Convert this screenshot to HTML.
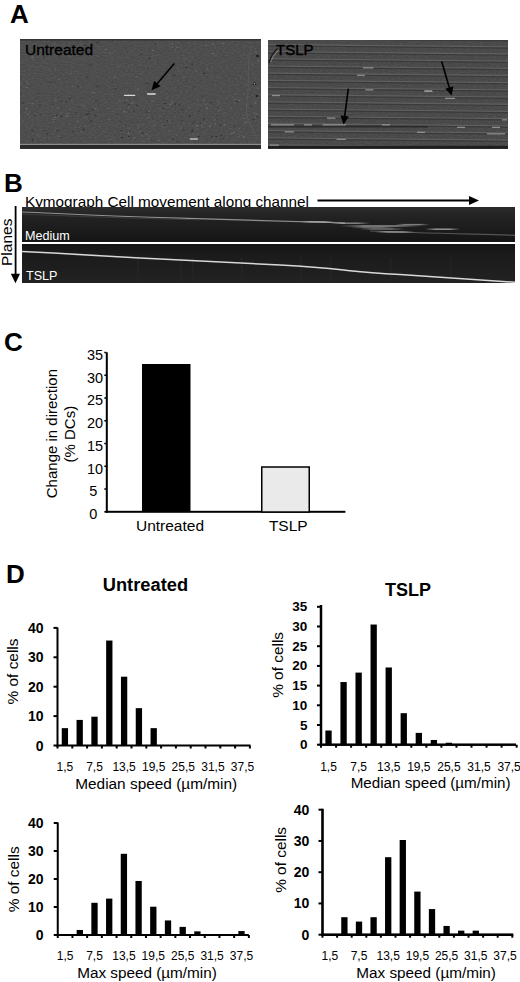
<!DOCTYPE html><html><head><meta charset="utf-8"><style>html,body{margin:0;padding:0;background:#fff;overflow:hidden}svg{display:block}text{font-family:"Liberation Sans",sans-serif;fill:#000}</style></head><body>
<svg width="520" height="982" viewBox="0 0 520 982">
<rect width="520" height="982" fill="#fff"/>
<defs><filter id="nz" x="0" y="0" width="1" height="1"><feTurbulence type="fractalNoise" baseFrequency="0.35 0.9" numOctaves="2" seed="3"/><feColorMatrix type="matrix" values="0 0 0 0 0.5  0 0 0 0 0.5  0 0 0 0 0.5  0 0 0 1.2 -0.45"/></filter></defs>
<text x="10" y="23.4" font-weight="bold" font-size="26">A</text>
<rect x="20" y="39" width="241" height="110" fill="#4a4a4a"/>
<rect x="20" y="39" width="241" height="110" filter="url(#nz)" opacity="0.22"/>
<rect x="20" y="39" width="241" height="1.5" fill="#333"/>
<rect x="20" y="143.8" width="241" height="1.2" fill="#8c8c8c"/>
<rect x="20" y="145" width="241" height="3.8" fill="#2a2a2a"/>
<rect x="123.8" y="94.64999999999999" width="11.6" height="1.3" rx="0.65" fill="#d8d8d8"/>
<rect x="147" y="93.35" width="8.8" height="1.3" rx="0.65" fill="#e0e0e0"/>
<rect x="189.6" y="138.35" width="8.4" height="1.3" rx="0.65" fill="#bbb"/>
<rect x="98.4" y="126.0" width="2.0" height="1" fill="#6a6a6a"/><rect x="44.2" y="137.1" width="1.0" height="1" fill="#707070"/><rect x="124.3" y="101.9" width="1.1" height="1" fill="#333"/><rect x="155.4" y="77.3" width="2.1" height="1" fill="#626262"/><rect x="158.2" y="140.0" width="1.7" height="1" fill="#6a6a6a"/><rect x="53.4" y="121.2" width="1.4" height="1" fill="#626262"/><rect x="214.6" y="123.0" width="1.4" height="1" fill="#707070"/><rect x="151.3" y="100.6" width="1.6" height="1" fill="#707070"/><rect x="147.5" y="68.1" width="1.4" height="1" fill="#333"/><rect x="80.6" y="131.5" width="1.7" height="1" fill="#6a6a6a"/><rect x="145.9" y="82.8" width="1.7" height="1" fill="#2e2e2e"/><rect x="39.3" y="105.1" width="1.2" height="1" fill="#2e2e2e"/><rect x="137.4" y="126.7" width="1.7" height="1" fill="#626262"/><rect x="228.6" y="127.9" width="1.6" height="1" fill="#626262"/><rect x="210.1" y="102.0" width="1.6" height="1" fill="#2e2e2e"/><rect x="178.7" y="128.2" width="2.2" height="1" fill="#626262"/><rect x="216.0" y="114.6" width="1.0" height="1" fill="#2e2e2e"/><rect x="131.0" y="103.0" width="1.3" height="1" fill="#6a6a6a"/><rect x="89.8" y="64.3" width="1.1" height="1" fill="#333"/><rect x="128.0" y="136.0" width="2.0" height="1" fill="#333"/><rect x="87.7" y="113.4" width="2.1" height="1" fill="#333"/><rect x="57.6" y="108.0" width="1.0" height="1" fill="#707070"/><rect x="218.1" y="110.1" width="1.5" height="1" fill="#707070"/><rect x="109.1" y="139.0" width="2.1" height="1" fill="#626262"/><rect x="176.6" y="67.6" width="1.5" height="1" fill="#626262"/><rect x="116.2" y="125.3" width="1.2" height="1" fill="#6a6a6a"/><rect x="254.4" y="102.7" width="1.1" height="1" fill="#626262"/><rect x="22.1" y="102.4" width="1.7" height="1" fill="#2e2e2e"/><rect x="38.6" y="114.2" width="2.1" height="1" fill="#2e2e2e"/><rect x="164.1" y="103.0" width="2.2" height="1" fill="#333"/><rect x="132.0" y="101.7" width="1.9" height="1" fill="#6a6a6a"/><rect x="196.7" y="127.8" width="1.0" height="1" fill="#626262"/><rect x="246.4" y="104.3" width="2.1" height="1" fill="#626262"/><rect x="200.9" y="125.6" width="1.8" height="1" fill="#6a6a6a"/><rect x="83.6" y="105.2" width="1.6" height="1" fill="#707070"/><rect x="205.9" y="107.6" width="2.0" height="1" fill="#707070"/><rect x="215.1" y="54.7" width="1.6" height="1" fill="#626262"/><rect x="194.5" y="86.2" width="1.3" height="1" fill="#333"/><rect x="185.4" y="67.0" width="2.1" height="1" fill="#2e2e2e"/><rect x="108.1" y="107.8" width="1.4" height="1" fill="#707070"/><rect x="135.9" y="76.2" width="1.6" height="1" fill="#6a6a6a"/><rect x="176.1" y="46.7" width="2.1" height="1" fill="#6a6a6a"/><rect x="206.6" y="68.8" width="1.5" height="1" fill="#707070"/><rect x="172.1" y="138.7" width="1.6" height="1" fill="#333"/><rect x="197.4" y="104.8" width="1.0" height="1" fill="#707070"/><rect x="161.4" y="126.2" width="2.0" height="1" fill="#626262"/><rect x="253.4" y="113.1" width="1.7" height="1" fill="#626262"/><rect x="27.0" y="82.7" width="1.6" height="1" fill="#6a6a6a"/><rect x="242.3" y="135.5" width="1.0" height="1" fill="#707070"/><rect x="72.2" y="130.8" width="1.3" height="1" fill="#2e2e2e"/><rect x="120.9" y="137.1" width="2.1" height="1" fill="#2e2e2e"/><rect x="178.3" y="70.9" width="1.2" height="1" fill="#626262"/><rect x="57.8" y="135.5" width="1.7" height="1" fill="#707070"/><rect x="205.1" y="104.1" width="1.9" height="1" fill="#626262"/><rect x="153.3" y="120.3" width="1.6" height="1" fill="#626262"/><rect x="205.3" y="45.2" width="1.3" height="1" fill="#707070"/><rect x="204.3" y="122.2" width="1.5" height="1" fill="#6a6a6a"/><rect x="166.6" y="120.0" width="1.5" height="1" fill="#2e2e2e"/><rect x="147.9" y="138.5" width="2.1" height="1" fill="#626262"/><rect x="244.4" y="122.1" width="2.0" height="1" fill="#707070"/><rect x="54.4" y="117.0" width="1.8" height="1" fill="#6a6a6a"/><rect x="123.1" y="111.0" width="2.1" height="1" fill="#6a6a6a"/><rect x="58.4" y="79.0" width="1.3" height="1" fill="#707070"/><rect x="54.4" y="130.1" width="1.5" height="1" fill="#6a6a6a"/><rect x="137.0" y="88.6" width="1.8" height="1" fill="#707070"/><rect x="256.6" y="116.1" width="1.4" height="1" fill="#2e2e2e"/><rect x="192.4" y="121.8" width="1.8" height="1" fill="#333"/><rect x="112.7" y="110.7" width="1.1" height="1" fill="#6a6a6a"/><rect x="238.8" y="135.7" width="1.3" height="1" fill="#6a6a6a"/><rect x="31.3" y="57.1" width="2.0" height="1" fill="#707070"/><rect x="222.5" y="138.7" width="1.2" height="1" fill="#333"/><rect x="238.9" y="128.1" width="1.3" height="1" fill="#6a6a6a"/><rect x="210.7" y="136.5" width="2.1" height="1" fill="#2e2e2e"/><rect x="171.7" y="46.7" width="1.1" height="1" fill="#707070"/><rect x="225.6" y="112.6" width="1.5" height="1" fill="#626262"/><rect x="238.0" y="99.9" width="2.1" height="1" fill="#707070"/><rect x="250.7" y="105.8" width="1.8" height="1" fill="#2e2e2e"/><rect x="147.3" y="117.2" width="1.3" height="1" fill="#707070"/><rect x="211.7" y="44.1" width="1.9" height="1" fill="#6a6a6a"/><rect x="152.0" y="118.4" width="1.1" height="1" fill="#333"/><rect x="215.3" y="119.3" width="2.2" height="1" fill="#333"/><rect x="94.6" y="107.9" width="2.0" height="1" fill="#707070"/><rect x="188.8" y="115.4" width="2.2" height="1" fill="#2e2e2e"/><rect x="219.5" y="124.9" width="1.5" height="1" fill="#2e2e2e"/><rect x="35.1" y="114.4" width="1.8" height="1" fill="#626262"/><rect x="88.5" y="110.6" width="1.2" height="1" fill="#333"/><rect x="85.5" y="113.7" width="2.2" height="1" fill="#2e2e2e"/><rect x="151.1" y="139.5" width="1.3" height="1" fill="#2e2e2e"/><rect x="65.2" y="101.6" width="1.6" height="1" fill="#2e2e2e"/><rect x="69.4" y="98.2" width="2.0" height="1" fill="#2e2e2e"/><rect x="56.0" y="114.9" width="1.4" height="1" fill="#2e2e2e"/><rect x="76.9" y="120.8" width="1.8" height="1" fill="#707070"/><rect x="191.0" y="63.8" width="1.9" height="1" fill="#2e2e2e"/><rect x="138.6" y="124.6" width="1.1" height="1" fill="#707070"/><rect x="219.1" y="77.1" width="1.2" height="1" fill="#626262"/><rect x="145.6" y="133.9" width="2.0" height="1" fill="#6a6a6a"/><rect x="159.8" y="80.2" width="1.1" height="1" fill="#707070"/><rect x="31.9" y="139.3" width="2.0" height="1" fill="#333"/><rect x="153.8" y="124.9" width="1.6" height="1" fill="#707070"/><rect x="22.8" y="83.9" width="2.1" height="1" fill="#626262"/><rect x="43.7" y="130.1" width="1.3" height="1" fill="#333"/><rect x="39.6" y="129.4" width="1.3" height="1" fill="#707070"/><rect x="175.4" y="134.4" width="1.6" height="1" fill="#6a6a6a"/><rect x="183.4" y="76.6" width="1.1" height="1" fill="#707070"/><rect x="56.8" y="130.0" width="1.7" height="1" fill="#2e2e2e"/><rect x="53.5" y="118.9" width="1.8" height="1" fill="#6a6a6a"/><rect x="181.5" y="120.2" width="1.6" height="1" fill="#333"/><rect x="203.1" y="72.7" width="2.2" height="1" fill="#2e2e2e"/><rect x="243.0" y="117.7" width="2.2" height="1" fill="#626262"/><rect x="128.1" y="107.0" width="1.1" height="1" fill="#707070"/><rect x="43.3" y="56.7" width="1.2" height="1" fill="#2e2e2e"/><rect x="215.6" y="136.1" width="1.3" height="1" fill="#2e2e2e"/><rect x="233.9" y="99.1" width="2.1" height="1" fill="#6a6a6a"/><rect x="182.9" y="129.3" width="1.4" height="1" fill="#333"/><rect x="96.6" y="42.1" width="2.0" height="1" fill="#2e2e2e"/><rect x="50.3" y="81.9" width="1.3" height="1" fill="#2e2e2e"/><rect x="37.3" y="135.4" width="1.4" height="1" fill="#6a6a6a"/><rect x="123.0" y="100.1" width="1.1" height="1" fill="#6a6a6a"/><rect x="178.2" y="104.4" width="1.5" height="1" fill="#2e2e2e"/><rect x="96.5" y="86.0" width="2.1" height="1" fill="#333"/><rect x="213.6" y="137.3" width="1.7" height="1" fill="#626262"/><rect x="191.8" y="129.5" width="1.7" height="1" fill="#333"/><rect x="54.7" y="69.2" width="1.2" height="1" fill="#626262"/><rect x="133.4" y="110.8" width="1.5" height="1" fill="#2e2e2e"/><rect x="78.3" y="126.8" width="1.2" height="1" fill="#6a6a6a"/><rect x="60.2" y="137.0" width="1.7" height="1" fill="#333"/><rect x="128.9" y="130.6" width="1.2" height="1" fill="#333"/><rect x="67.4" y="112.7" width="1.4" height="1" fill="#6a6a6a"/><rect x="108.9" y="53.3" width="1.9" height="1" fill="#6a6a6a"/><rect x="119.4" y="120.5" width="1.3" height="1" fill="#333"/><rect x="199.5" y="122.7" width="1.2" height="1" fill="#2e2e2e"/><rect x="140.8" y="135.1" width="1.1" height="1" fill="#707070"/><rect x="233.6" y="125.8" width="2.1" height="1" fill="#333"/><rect x="222.3" y="43.2" width="1.5" height="1" fill="#6a6a6a"/><rect x="202.2" y="96.2" width="1.0" height="1" fill="#333"/><rect x="114.4" y="88.2" width="2.2" height="1" fill="#333"/><rect x="80.6" y="104.6" width="2.2" height="1" fill="#626262"/><rect x="47.7" y="81.3" width="1.1" height="1" fill="#333"/><rect x="205.3" y="103.4" width="2.1" height="1" fill="#626262"/><rect x="174.3" y="103.5" width="1.6" height="1" fill="#2e2e2e"/><rect x="125.2" y="47.6" width="1.6" height="1" fill="#2e2e2e"/><rect x="159.6" y="107.6" width="1.0" height="1" fill="#626262"/><rect x="148.8" y="57.6" width="1.8" height="1" fill="#2e2e2e"/><rect x="230.6" y="108.1" width="1.0" height="1" fill="#707070"/><rect x="119.2" y="100.4" width="1.6" height="1" fill="#707070"/><rect x="181.2" y="109.1" width="2.1" height="1" fill="#333"/><rect x="75.5" y="112.5" width="1.4" height="1" fill="#333"/><rect x="115.5" y="110.6" width="1.1" height="1" fill="#626262"/><rect x="139.0" y="130.9" width="1.3" height="1" fill="#707070"/><rect x="74.3" y="58.5" width="1.6" height="1" fill="#626262"/><rect x="66.2" y="115.9" width="2.1" height="1" fill="#6a6a6a"/><rect x="56.5" y="107.2" width="1.2" height="1" fill="#626262"/><rect x="34.2" y="114.9" width="1.9" height="1" fill="#2e2e2e"/><rect x="257.4" y="60.4" width="1.8" height="1" fill="#707070"/><rect x="145.9" y="111.4" width="2.0" height="1" fill="#333"/><rect x="254.5" y="102.7" width="1.3" height="1" fill="#6a6a6a"/><rect x="104.9" y="48.9" width="1.5" height="1" fill="#707070"/><rect x="203.4" y="132.6" width="1.1" height="1" fill="#6a6a6a"/><rect x="133.7" y="137.5" width="1.4" height="1" fill="#707070"/><rect x="196.0" y="125.2" width="2.0" height="1" fill="#707070"/><rect x="202.9" y="99.5" width="2.0" height="1" fill="#6a6a6a"/><rect x="36.6" y="100.7" width="1.4" height="1" fill="#626262"/><rect x="86.3" y="76.6" width="1.9" height="1" fill="#2e2e2e"/><rect x="184.7" y="58.7" width="2.1" height="1" fill="#626262"/><rect x="171.6" y="43.4" width="1.1" height="1" fill="#707070"/><rect x="190.9" y="131.4" width="2.1" height="1" fill="#2e2e2e"/><rect x="214.3" y="119.4" width="2.0" height="1" fill="#6a6a6a"/><rect x="196.3" y="85.3" width="1.3" height="1" fill="#626262"/><rect x="225.3" y="131.7" width="1.1" height="1" fill="#626262"/><rect x="68.6" y="55.8" width="1.8" height="1" fill="#6a6a6a"/><rect x="135.7" y="104.9" width="2.1" height="1" fill="#333"/><rect x="255.1" y="101.6" width="1.5" height="1" fill="#6a6a6a"/><rect x="255.3" y="51.7" width="1.5" height="1" fill="#707070"/><rect x="168.4" y="130.2" width="1.9" height="1" fill="#6a6a6a"/><rect x="91.4" y="109.5" width="1.9" height="1" fill="#2e2e2e"/><rect x="69.0" y="108.5" width="1.3" height="1" fill="#707070"/><rect x="236.2" y="100.8" width="2.2" height="1" fill="#2e2e2e"/><rect x="141.7" y="132.8" width="2.2" height="1" fill="#333"/><rect x="46.2" y="133.2" width="2.1" height="1" fill="#333"/><rect x="31.5" y="103.1" width="1.7" height="1" fill="#707070"/><rect x="217.4" y="101.2" width="2.0" height="1" fill="#626262"/><rect x="128.0" y="131.4" width="1.1" height="1" fill="#6a6a6a"/><rect x="162.7" y="107.4" width="1.4" height="1" fill="#2e2e2e"/><rect x="32.4" y="44.1" width="2.0" height="1" fill="#707070"/><rect x="215.2" y="114.0" width="1.4" height="1" fill="#626262"/><rect x="70.0" y="72.7" width="1.5" height="1" fill="#6a6a6a"/><rect x="209.8" y="104.6" width="1.1" height="1" fill="#626262"/><rect x="60.6" y="115.6" width="1.8" height="1" fill="#2e2e2e"/><rect x="120.6" y="130.0" width="1.5" height="1" fill="#2e2e2e"/><rect x="26.3" y="86.9" width="1.5" height="1" fill="#707070"/><rect x="117.6" y="66.3" width="1.5" height="1" fill="#707070"/><rect x="215.6" y="136.0" width="1.9" height="1" fill="#333"/><rect x="52.7" y="104.1" width="1.1" height="1" fill="#333"/><rect x="168.8" y="119.7" width="1.4" height="1" fill="#707070"/><rect x="60.2" y="100.9" width="1.6" height="1" fill="#333"/><rect x="211.9" y="53.1" width="2.0" height="1" fill="#707070"/><rect x="32.3" y="59.6" width="2.1" height="1" fill="#626262"/><rect x="113.5" y="76.7" width="1.8" height="1" fill="#707070"/><rect x="224.2" y="124.4" width="2.0" height="1" fill="#707070"/><rect x="65.2" y="115.2" width="1.2" height="1" fill="#626262"/><rect x="106.8" y="139.7" width="1.0" height="1" fill="#707070"/><rect x="154.7" y="44.1" width="1.1" height="1" fill="#2e2e2e"/><rect x="163.5" y="125.0" width="1.8" height="1" fill="#2e2e2e"/><rect x="94.7" y="114.7" width="1.5" height="1" fill="#2e2e2e"/><rect x="125.5" y="124.6" width="1.6" height="1" fill="#333"/><rect x="127.4" y="133.2" width="2.0" height="1" fill="#707070"/><rect x="116.5" y="113.4" width="1.1" height="1" fill="#2e2e2e"/><rect x="126.3" y="99.8" width="1.1" height="1" fill="#707070"/><rect x="195.1" y="70.6" width="1.9" height="1" fill="#6a6a6a"/><rect x="233.2" y="131.7" width="2.0" height="1" fill="#6a6a6a"/><rect x="257.1" y="87.6" width="1.2" height="1" fill="#707070"/><rect x="231.0" y="132.9" width="1.8" height="1" fill="#707070"/><rect x="192.2" y="133.8" width="1.9" height="1" fill="#626262"/><rect x="59.5" y="57.4" width="1.2" height="1" fill="#333"/><rect x="140.5" y="53.7" width="1.7" height="1" fill="#2e2e2e"/><rect x="78.0" y="106.6" width="1.2" height="1" fill="#333"/><rect x="243.0" y="136.5" width="2.0" height="1" fill="#707070"/><rect x="84.4" y="44.7" width="2.2" height="1" fill="#2e2e2e"/><rect x="128.9" y="127.6" width="1.3" height="1" fill="#6a6a6a"/><rect x="148.4" y="83.3" width="1.3" height="1" fill="#2e2e2e"/><rect x="255.8" y="113.5" width="1.5" height="1" fill="#6a6a6a"/><rect x="63.7" y="44.7" width="1.3" height="1" fill="#626262"/><rect x="172.9" y="74.8" width="1.9" height="1" fill="#2e2e2e"/><rect x="198.3" y="110.5" width="1.5" height="1" fill="#333"/><rect x="107.9" y="119.0" width="1.8" height="1" fill="#626262"/><rect x="27.3" y="113.3" width="1.6" height="1" fill="#6a6a6a"/><rect x="148.1" y="110.9" width="1.2" height="1" fill="#707070"/><rect x="169.2" y="103.8" width="1.8" height="1" fill="#707070"/><rect x="128.4" y="104.2" width="1.5" height="1" fill="#2e2e2e"/><rect x="84.4" y="125.7" width="2.1" height="1" fill="#626262"/><rect x="162.4" y="123.9" width="1.9" height="1" fill="#626262"/><rect x="80.6" y="44.5" width="1.0" height="1" fill="#626262"/><rect x="65.8" y="137.2" width="1.0" height="1" fill="#6a6a6a"/><rect x="152.0" y="50.0" width="1.6" height="1" fill="#707070"/><rect x="173.7" y="115.9" width="1.2" height="1" fill="#626262"/><rect x="95.0" y="100.1" width="1.9" height="1" fill="#333"/><rect x="23.5" y="83.7" width="1.1" height="1" fill="#333"/><rect x="176.7" y="140.9" width="1.3" height="1" fill="#2e2e2e"/><rect x="31.2" y="130.2" width="1.9" height="1" fill="#2e2e2e"/><rect x="84.8" y="116.8" width="2.2" height="1" fill="#626262"/><rect x="91.8" y="92.1" width="2.1" height="1" fill="#6a6a6a"/><rect x="25.6" y="108.2" width="2.1" height="1" fill="#707070"/><rect x="198.1" y="135.8" width="1.7" height="1" fill="#2e2e2e"/><rect x="111.5" y="93.6" width="1.6" height="1" fill="#626262"/><rect x="220.2" y="134.9" width="2.1" height="1" fill="#333"/><rect x="77.2" y="86.2" width="1.7" height="1" fill="#333"/><rect x="40.4" y="50.1" width="1.1" height="1" fill="#6a6a6a"/><rect x="168.8" y="140.0" width="1.0" height="1" fill="#6a6a6a"/><rect x="54.7" y="99.8" width="1.9" height="1" fill="#6a6a6a"/><rect x="37.5" y="113.6" width="2.1" height="1" fill="#626262"/><rect x="37.6" y="93.2" width="1.1" height="1" fill="#333"/><rect x="70.6" y="99.5" width="2.0" height="1" fill="#6a6a6a"/><rect x="171.0" y="102.3" width="2.0" height="1" fill="#6a6a6a"/><rect x="174.5" y="112.5" width="1.0" height="1" fill="#2e2e2e"/><rect x="82.6" y="128.8" width="2.1" height="1" fill="#2e2e2e"/><rect x="203.5" y="118.5" width="1.7" height="1" fill="#2e2e2e"/><rect x="29.3" y="116.8" width="1.4" height="1" fill="#6a6a6a"/><rect x="188.3" y="107.3" width="1.7" height="1" fill="#6a6a6a"/><rect x="89.8" y="120.5" width="1.9" height="1" fill="#2e2e2e"/><rect x="252.8" y="119.1" width="1.8" height="1" fill="#333"/>
<circle cx="257.6" cy="56" r="1.3" fill="#1a1a1a"/>
<circle cx="254.3" cy="83.8" r="1.5" fill="#1a1a1a"/>
<circle cx="254.3" cy="83.8" r="0.7" fill="#bbb"/>
<circle cx="256.8" cy="96" r="1.2" fill="#222"/>
<circle cx="210" cy="126" r="0.8" fill="#777"/>
<circle cx="160" cy="116" r="0.8" fill="#6a6a6a"/>
<circle cx="120" cy="108" r="0.7" fill="#666"/>
<path d="M252,45 C246,60 250,80 247,100 S252,125 258,140" fill="none" stroke="#5c5c5c" stroke-width="0.8"/>
<text x="25" y="54.6" font-size="15.5" stroke="#000" stroke-width="0.35">Untreated</text>
<rect x="268" y="40" width="240" height="109" fill="#474747"/>
<rect x="268" y="40" width="240" height="109" filter="url(#nz)" opacity="0.18"/>
<clipPath id="rc"><rect x="268" y="40" width="240" height="109"/></clipPath>
<g clip-path="url(#rc)"><g transform="rotate(0.55 388 94)">
<rect x="260" y="37.82" width="256" height="1.4" fill="#5f5f5f"/>
<rect x="260" y="39.12" width="256" height="1.2" fill="#3a3a3a"/>
<rect x="260" y="45.00" width="256" height="1.4" fill="#5f5f5f"/>
<rect x="260" y="46.30" width="256" height="1.2" fill="#3a3a3a"/>
<rect x="260" y="52.18" width="256" height="1.4" fill="#5f5f5f"/>
<rect x="260" y="53.48" width="256" height="1.2" fill="#3a3a3a"/>
<rect x="260" y="59.36" width="256" height="1.4" fill="#5f5f5f"/>
<rect x="260" y="60.66" width="256" height="1.2" fill="#3a3a3a"/>
<rect x="260" y="66.54" width="256" height="1.4" fill="#5f5f5f"/>
<rect x="260" y="67.84" width="256" height="1.2" fill="#3a3a3a"/>
<rect x="260" y="73.72" width="256" height="1.4" fill="#5f5f5f"/>
<rect x="260" y="75.02" width="256" height="1.2" fill="#3a3a3a"/>
<rect x="260" y="80.90" width="256" height="1.4" fill="#5f5f5f"/>
<rect x="260" y="82.20" width="256" height="1.2" fill="#3a3a3a"/>
<rect x="260" y="88.08" width="256" height="1.4" fill="#5f5f5f"/>
<rect x="260" y="89.38" width="256" height="1.2" fill="#3a3a3a"/>
<rect x="260" y="95.26" width="256" height="1.4" fill="#5f5f5f"/>
<rect x="260" y="96.56" width="256" height="1.2" fill="#3a3a3a"/>
<rect x="260" y="102.44" width="256" height="1.4" fill="#5f5f5f"/>
<rect x="260" y="103.74" width="256" height="1.2" fill="#3a3a3a"/>
<rect x="260" y="109.62" width="256" height="1.4" fill="#5f5f5f"/>
<rect x="260" y="110.92" width="256" height="1.2" fill="#3a3a3a"/>
<rect x="260" y="116.80" width="256" height="1.4" fill="#5f5f5f"/>
<rect x="260" y="118.10" width="256" height="1.2" fill="#3a3a3a"/>
<rect x="260" y="123.98" width="256" height="1.4" fill="#5f5f5f"/>
<rect x="260" y="125.28" width="256" height="1.2" fill="#3a3a3a"/>
<rect x="260" y="131.16" width="256" height="1.4" fill="#5f5f5f"/>
<rect x="260" y="132.46" width="256" height="1.2" fill="#3a3a3a"/>
<rect x="260" y="138.34" width="256" height="1.4" fill="#5f5f5f"/>
<rect x="260" y="139.64" width="256" height="1.2" fill="#3a3a3a"/>
<rect x="260" y="145.52" width="256" height="1.4" fill="#5f5f5f"/>
<rect x="260" y="146.82" width="256" height="1.2" fill="#3a3a3a"/>
</g></g>
<rect x="268" y="145.8" width="240" height="2.8" fill="#1e1e1e"/>
<rect x="268" y="126.2" width="160" height="1.2" fill="#262626"/>
<rect x="363" y="67.2" width="10.5" height="1.3" fill="#a0a0a0" opacity="0.8"/>
<rect x="357" y="74.60000000000001" width="8.0" height="1.3" fill="#a0a0a0" opacity="0.8"/>
<rect x="272" y="94.9" width="8.0" height="1.3" fill="#a0a0a0" opacity="0.8"/>
<rect x="365.4" y="89.2" width="8.1" height="1.3" fill="#a0a0a0" opacity="0.8"/>
<rect x="327" y="117.5" width="8.4" height="1.3" fill="#a0a0a0" opacity="0.8"/>
<rect x="271" y="124.2" width="23.0" height="1.3" fill="#a0a0a0" opacity="0.8"/>
<rect x="304" y="124.2" width="8.0" height="1.3" fill="#a0a0a0" opacity="0.8"/>
<rect x="322.7" y="124.2" width="23.1" height="1.3" fill="#a0a0a0" opacity="0.8"/>
<rect x="284.6" y="131.2" width="9.4" height="1.3" fill="#a0a0a0" opacity="0.8"/>
<rect x="336.5" y="138.7" width="9.3" height="1.3" fill="#a0a0a0" opacity="0.8"/>
<rect x="269.6" y="144.5" width="9.2" height="1.3" fill="#a0a0a0" opacity="0.8"/>
<rect x="425" y="90.7" width="7.5" height="1.3" fill="#a0a0a0" opacity="0.8"/>
<rect x="445" y="97.7" width="10.0" height="1.3" fill="#a0a0a0" opacity="0.8"/>
<rect x="502" y="119.2" width="5.0" height="1.3" fill="#a0a0a0" opacity="0.8"/>
<rect x="457" y="126.7" width="8.0" height="1.3" fill="#a0a0a0" opacity="0.8"/>
<rect x="492" y="126.7" width="8.0" height="1.3" fill="#a0a0a0" opacity="0.8"/>
<rect x="417" y="131.7" width="8.0" height="1.3" fill="#a0a0a0" opacity="0.8"/>
<rect x="382" y="124.2" width="8.0" height="1.3" fill="#a0a0a0" opacity="0.8"/>
<rect x="487" y="133.2" width="18.0" height="1.3" fill="#a0a0a0" opacity="0.8"/>
<rect x="424" y="90.2" width="8.0" height="1.3" fill="#a0a0a0" opacity="0.8"/>
<path d="M268.8,63 L271.5,56 L274,52 L277.5,48.5" fill="none" stroke="#151515" stroke-width="1.1"/>
<path d="M270.6,62 L273.2,56.5 L276,53 L278.5,50" fill="none" stroke="#8a8a8a" stroke-width="0.9"/>
<text x="276" y="55.3" font-size="15" stroke="#000" stroke-width="0.45">TSLP</text>
<line x1="174.3" y1="63.5" x2="156.68" y2="84.21" stroke="#000" stroke-width="1.6"/>
<polygon points="151.5,90.3 154.13,80.72 160.53,86.17" fill="#000"/>
<line x1="348.3" y1="88.7" x2="344.58" y2="116.96" stroke="#000" stroke-width="1.6"/>
<polygon points="343.6,124.4 340.55,115.42 348.87,116.52" fill="#000"/>
<line x1="441.7" y1="61.5" x2="449.59" y2="88.40" stroke="#000" stroke-width="1.6"/>
<polygon points="451.7,95.6 445.28,88.63 453.34,86.26" fill="#000"/>
<text x="4" y="192" font-weight="bold" font-size="26">B</text>
<text x="25" y="206.5" font-size="15.3">Kymograph Cell movement along channel</text>
<rect x="317.5" y="199.5" width="152" height="2" fill="#000"/>
<polygon points="469,196 479,200.5 469,205" fill="#000"/>
<defs><linearGradient id="kt" x1="0" y1="0" x2="0" y2="1"><stop offset="0" stop-color="#2c2c2c"/><stop offset="0.3" stop-color="#222"/><stop offset="1" stop-color="#151515"/></linearGradient><linearGradient id="kb" x1="0" y1="0" x2="0" y2="1"><stop offset="0" stop-color="#151515"/><stop offset="0.3" stop-color="#1b1b1b"/><stop offset="1" stop-color="#222"/></linearGradient></defs>
<rect x="22" y="207" width="493" height="35" fill="url(#kt)"/>
<rect x="22" y="242" width="493" height="2" fill="#fff"/>
<rect x="22" y="244" width="493" height="39" fill="url(#kb)"/>
<rect x="137" y="258" width="1.5" height="25" fill="#242424"/>
<rect x="180" y="258" width="1.5" height="25" fill="#242424"/>
<rect x="192" y="258" width="1.5" height="25" fill="#242424"/>
<rect x="241" y="258" width="1.5" height="25" fill="#242424"/>
<rect x="300" y="258" width="1.5" height="25" fill="#242424"/>
<rect x="330" y="258" width="1.5" height="25" fill="#242424"/>
<rect x="390" y="258" width="1.5" height="25" fill="#242424"/>
<rect x="450" y="258" width="1.5" height="25" fill="#242424"/>
<defs><linearGradient id="fh" x1="0" y1="0" x2="1" y2="0"><stop offset="0" stop-color="#ddd" stop-opacity="0"/><stop offset="0.3" stop-color="#ddd"/><stop offset="0.7" stop-color="#ddd"/><stop offset="1" stop-color="#ddd" stop-opacity="0"/></linearGradient></defs>
<path d="M22,212 C60,213.5 100,215.8 180,218.2 S300,221.5 345,223" fill="none" stroke="#909090" stroke-width="1.2"/>
<path d="M22,214.2 C60,215.5 100,217.5 200,219.8" fill="none" stroke="#3c3c3c" stroke-width="1"/>
<path d="M370,231 C420,233 470,234 515,235.3" fill="none" stroke="#555" stroke-width="1.2"/>
<rect x="330" y="222.5" width="40" height="1.4" fill="url(#fh)" opacity="0.55"/>
<rect x="340" y="225.3" width="80" height="1.4" fill="url(#fh)" opacity="0.6"/>
<rect x="360" y="228.3" width="45" height="1.4" fill="url(#fh)" opacity="0.45"/>
<rect x="395" y="223.9" width="35" height="1.4" fill="url(#fh)" opacity="0.5"/>
<rect x="425" y="228.5" width="35" height="1.4" fill="url(#fh)" opacity="0.65"/>
<rect x="375" y="231.3" width="40" height="1.4" fill="url(#fh)" opacity="0.6"/>
<rect x="300" y="221.10000000000002" width="35" height="1.4" fill="url(#fh)" opacity="0.6"/>
<rect x="350" y="226.8" width="45" height="1.4" fill="url(#fh)" opacity="0.35"/>
<path d="M22,251.5 C60,253.3 90,255.3 140,258 S240,263 280,265 S330,268.5 350,270.8 S380,273.6 400,274.6 S470,279 515,282.3" fill="none" stroke="#d8d8d8" stroke-width="1.5"/>
<text x="25" y="239.7" font-size="12.6" style="fill:#fff">Medium</text>
<text x="26" y="279.6" font-size="12.6" style="fill:#fff">TSLP</text>
<rect x="14.7" y="206" width="1.8" height="69" fill="#000"/>
<polygon points="10.8,273.7 20,273.7 15.5,283.2" fill="#000"/>
<text transform="translate(11.7,242.3) rotate(-90)" text-anchor="middle" font-size="15.5">Planes</text>
<text x="4" y="351" font-weight="bold" font-size="26">C</text>
<rect x="105.8" y="352.3" width="2" height="160.50" fill="#000"/>
<rect x="105.6" y="510.80" width="239.80" height="2" fill="#000"/>
<rect x="104.3" y="511.05" width="2" height="1.5" fill="#000"/>
<text x="97.4" y="514.20" text-anchor="end" dominant-baseline="central" font-size="14.5">0</text>
<rect x="104.3" y="488.29" width="2" height="1.5" fill="#000"/>
<text x="97.4" y="491.44" text-anchor="end" dominant-baseline="central" font-size="14.5">5</text>
<rect x="104.3" y="465.54" width="2" height="1.5" fill="#000"/>
<text x="103.2" y="468.69" text-anchor="end" dominant-baseline="central" font-size="14.5">10</text>
<rect x="104.3" y="442.78" width="2" height="1.5" fill="#000"/>
<text x="103.2" y="445.93" text-anchor="end" dominant-baseline="central" font-size="14.5">15</text>
<rect x="104.3" y="420.02" width="2" height="1.5" fill="#000"/>
<text x="103.2" y="423.17" text-anchor="end" dominant-baseline="central" font-size="14.5">20</text>
<rect x="104.3" y="397.26" width="2" height="1.5" fill="#000"/>
<text x="103.2" y="400.41" text-anchor="end" dominant-baseline="central" font-size="14.5">25</text>
<rect x="104.3" y="374.51" width="2" height="1.5" fill="#000"/>
<text x="103.2" y="377.66" text-anchor="end" dominant-baseline="central" font-size="14.5">30</text>
<rect x="104.3" y="351.75" width="2" height="1.5" fill="#000"/>
<text x="103.2" y="354.90" text-anchor="end" dominant-baseline="central" font-size="14.5">35</text>
<rect x="142" y="364" width="48.5" height="148" fill="#000"/>
<rect x="261.75" y="467" width="47.5" height="45" fill="#eaeaea" stroke="#000" stroke-width="1.5"/>
<text x="170" y="530.5" text-anchor="middle" font-size="15.5">Untreated</text>
<text x="288.3" y="530.5" text-anchor="middle" font-size="15.5">TSLP</text>
<text transform="translate(56.8,433.6) rotate(-90)" text-anchor="middle" font-size="15">Change in direction</text>
<text transform="translate(75.3,434.2) rotate(-90)" text-anchor="middle" font-size="15">(% DCs)</text>
<text x="6" y="582.8" font-weight="bold" font-size="26">D</text>
<text x="145.4" y="591.4" text-anchor="middle" font-weight="bold" font-size="18.3">Untreated</text>
<text x="408" y="596" text-anchor="middle" font-weight="bold" font-size="18">TSLP</text>
<rect x="56.50" y="627.50" width="2" height="119.00" fill="#000"/>
<rect x="56.50" y="744.50" width="194.00" height="2" fill="#000"/>
<rect x="53.50" y="744.50" width="4" height="2" fill="#000"/>
<text x="43.50" y="745.50" text-anchor="end" dominant-baseline="central" font-weight="bold" font-size="14">0</text>
<rect x="53.50" y="715.10" width="4" height="2" fill="#000"/>
<text x="43.50" y="716.10" text-anchor="end" dominant-baseline="central" font-weight="bold" font-size="14">10</text>
<rect x="53.50" y="685.70" width="4" height="2" fill="#000"/>
<text x="43.50" y="686.70" text-anchor="end" dominant-baseline="central" font-weight="bold" font-size="14">20</text>
<rect x="53.50" y="656.30" width="4" height="2" fill="#000"/>
<text x="43.50" y="657.30" text-anchor="end" dominant-baseline="central" font-weight="bold" font-size="14">30</text>
<rect x="53.50" y="626.90" width="4" height="2" fill="#000"/>
<text x="43.50" y="627.90" text-anchor="end" dominant-baseline="central" font-weight="bold" font-size="14">40</text>
<rect x="56.50" y="745.50" width="2" height="3" fill="#000"/>
<rect x="71.30" y="745.50" width="2" height="3" fill="#000"/>
<rect x="86.10" y="745.50" width="2" height="3" fill="#000"/>
<rect x="100.90" y="745.50" width="2" height="3" fill="#000"/>
<rect x="115.70" y="745.50" width="2" height="3" fill="#000"/>
<rect x="130.50" y="745.50" width="2" height="3" fill="#000"/>
<rect x="145.30" y="745.50" width="2" height="3" fill="#000"/>
<rect x="160.10" y="745.50" width="2" height="3" fill="#000"/>
<rect x="174.90" y="745.50" width="2" height="3" fill="#000"/>
<rect x="189.70" y="745.50" width="2" height="3" fill="#000"/>
<rect x="204.50" y="745.50" width="2" height="3" fill="#000"/>
<rect x="219.30" y="745.50" width="2" height="3" fill="#000"/>
<rect x="234.10" y="745.50" width="2" height="3" fill="#000"/>
<rect x="248.90" y="745.50" width="2" height="3" fill="#000"/>
<rect x="61.75" y="728.15" width="6.30" height="17.35" fill="#000"/>
<rect x="76.55" y="719.92" width="6.30" height="25.58" fill="#000"/>
<rect x="91.35" y="716.69" width="6.30" height="28.81" fill="#000"/>
<rect x="106.15" y="640.54" width="6.30" height="104.96" fill="#000"/>
<rect x="120.95" y="676.70" width="6.30" height="68.80" fill="#000"/>
<rect x="135.75" y="708.16" width="6.30" height="37.34" fill="#000"/>
<rect x="150.55" y="728.15" width="6.30" height="17.35" fill="#000"/>
<text x="64.90" y="770.50" text-anchor="middle" font-size="12">1,5</text>
<text x="94.50" y="770.50" text-anchor="middle" font-size="12">7,5</text>
<text x="124.10" y="770.50" text-anchor="middle" font-size="12">13,5</text>
<text x="153.70" y="770.50" text-anchor="middle" font-size="12">19,5</text>
<text x="183.30" y="770.50" text-anchor="middle" font-size="12">25,5</text>
<text x="212.90" y="770.50" text-anchor="middle" font-size="12">31,5</text>
<text x="242.50" y="770.50" text-anchor="middle" font-size="12">37,5</text>
<rect x="319.75" y="605.00" width="2.5" height="140.95" fill="#000"/>
<rect x="319.75" y="743.45" width="196.25" height="2.5" fill="#000"/>
<rect x="317.00" y="743.70" width="4" height="2" fill="#000"/>
<text x="307.40" y="744.70" text-anchor="end" dominant-baseline="central" font-weight="bold" font-size="13.5">0</text>
<rect x="317.00" y="724.00" width="4" height="2" fill="#000"/>
<text x="307.40" y="725.00" text-anchor="end" dominant-baseline="central" font-weight="bold" font-size="13.5">5</text>
<rect x="317.00" y="704.30" width="4" height="2" fill="#000"/>
<text x="307.40" y="705.30" text-anchor="end" dominant-baseline="central" font-weight="bold" font-size="13.5">10</text>
<rect x="317.00" y="684.60" width="4" height="2" fill="#000"/>
<text x="307.40" y="685.60" text-anchor="end" dominant-baseline="central" font-weight="bold" font-size="13.5">15</text>
<rect x="317.00" y="664.90" width="4" height="2" fill="#000"/>
<text x="307.40" y="665.90" text-anchor="end" dominant-baseline="central" font-weight="bold" font-size="13.5">20</text>
<rect x="317.00" y="645.20" width="4" height="2" fill="#000"/>
<text x="307.40" y="646.20" text-anchor="end" dominant-baseline="central" font-weight="bold" font-size="13.5">25</text>
<rect x="317.00" y="625.50" width="4" height="2" fill="#000"/>
<text x="307.40" y="626.50" text-anchor="end" dominant-baseline="central" font-weight="bold" font-size="13.5">30</text>
<rect x="317.00" y="605.80" width="4" height="2" fill="#000"/>
<text x="307.40" y="606.80" text-anchor="end" dominant-baseline="central" font-weight="bold" font-size="13.5">35</text>
<rect x="320.00" y="744.70" width="2" height="3" fill="#000"/>
<rect x="335.05" y="744.70" width="2" height="3" fill="#000"/>
<rect x="350.10" y="744.70" width="2" height="3" fill="#000"/>
<rect x="365.15" y="744.70" width="2" height="3" fill="#000"/>
<rect x="380.20" y="744.70" width="2" height="3" fill="#000"/>
<rect x="395.25" y="744.70" width="2" height="3" fill="#000"/>
<rect x="410.30" y="744.70" width="2" height="3" fill="#000"/>
<rect x="425.35" y="744.70" width="2" height="3" fill="#000"/>
<rect x="440.40" y="744.70" width="2" height="3" fill="#000"/>
<rect x="455.45" y="744.70" width="2" height="3" fill="#000"/>
<rect x="470.50" y="744.70" width="2" height="3" fill="#000"/>
<rect x="485.55" y="744.70" width="2" height="3" fill="#000"/>
<rect x="500.60" y="744.70" width="2" height="3" fill="#000"/>
<rect x="515.65" y="744.70" width="2" height="3" fill="#000"/>
<rect x="325.38" y="730.52" width="6.30" height="14.18" fill="#000"/>
<rect x="340.43" y="682.05" width="6.30" height="62.65" fill="#000"/>
<rect x="355.48" y="672.60" width="6.30" height="72.10" fill="#000"/>
<rect x="370.53" y="624.53" width="6.30" height="120.17" fill="#000"/>
<rect x="385.58" y="667.48" width="6.30" height="77.22" fill="#000"/>
<rect x="400.62" y="713.18" width="6.30" height="31.52" fill="#000"/>
<rect x="415.68" y="732.88" width="6.30" height="11.82" fill="#000"/>
<rect x="430.73" y="739.97" width="6.30" height="4.73" fill="#000"/>
<rect x="445.78" y="742.73" width="6.30" height="1.97" fill="#000"/>
<text x="328.52" y="770.50" text-anchor="middle" font-size="12">1,5</text>
<text x="358.62" y="770.50" text-anchor="middle" font-size="12">7,5</text>
<text x="388.73" y="770.50" text-anchor="middle" font-size="12">13,5</text>
<text x="418.82" y="770.50" text-anchor="middle" font-size="12">19,5</text>
<text x="448.93" y="770.50" text-anchor="middle" font-size="12">25,5</text>
<text x="479.02" y="770.50" text-anchor="middle" font-size="12">31,5</text>
<text x="509.12" y="770.50" text-anchor="middle" font-size="12">37,5</text>
<rect x="56.75" y="822.50" width="2" height="113.50" fill="#000"/>
<rect x="56.75" y="934.00" width="192.05" height="2" fill="#000"/>
<rect x="53.75" y="934.00" width="4" height="2" fill="#000"/>
<text x="43.60" y="935.00" text-anchor="end" dominant-baseline="central" font-weight="bold" font-size="14">0</text>
<rect x="53.75" y="906.00" width="4" height="2" fill="#000"/>
<text x="43.60" y="907.00" text-anchor="end" dominant-baseline="central" font-weight="bold" font-size="14">10</text>
<rect x="53.75" y="878.00" width="4" height="2" fill="#000"/>
<text x="43.60" y="879.00" text-anchor="end" dominant-baseline="central" font-weight="bold" font-size="14">20</text>
<rect x="53.75" y="850.00" width="4" height="2" fill="#000"/>
<text x="43.60" y="851.00" text-anchor="end" dominant-baseline="central" font-weight="bold" font-size="14">30</text>
<rect x="53.75" y="822.00" width="4" height="2" fill="#000"/>
<text x="43.60" y="823.00" text-anchor="end" dominant-baseline="central" font-weight="bold" font-size="14">40</text>
<rect x="56.75" y="935.00" width="2" height="3" fill="#000"/>
<rect x="71.45" y="935.00" width="2" height="3" fill="#000"/>
<rect x="86.15" y="935.00" width="2" height="3" fill="#000"/>
<rect x="100.85" y="935.00" width="2" height="3" fill="#000"/>
<rect x="115.55" y="935.00" width="2" height="3" fill="#000"/>
<rect x="130.25" y="935.00" width="2" height="3" fill="#000"/>
<rect x="144.95" y="935.00" width="2" height="3" fill="#000"/>
<rect x="159.65" y="935.00" width="2" height="3" fill="#000"/>
<rect x="174.35" y="935.00" width="2" height="3" fill="#000"/>
<rect x="189.05" y="935.00" width="2" height="3" fill="#000"/>
<rect x="203.75" y="935.00" width="2" height="3" fill="#000"/>
<rect x="218.45" y="935.00" width="2" height="3" fill="#000"/>
<rect x="233.15" y="935.00" width="2" height="3" fill="#000"/>
<rect x="247.85" y="935.00" width="2" height="3" fill="#000"/>
<rect x="76.65" y="929.96" width="6.30" height="5.04" fill="#000"/>
<rect x="91.35" y="902.80" width="6.30" height="32.20" fill="#000"/>
<rect x="106.05" y="898.60" width="6.30" height="36.40" fill="#000"/>
<rect x="120.75" y="853.80" width="6.30" height="81.20" fill="#000"/>
<rect x="135.45" y="880.96" width="6.30" height="54.04" fill="#000"/>
<rect x="150.15" y="906.72" width="6.30" height="28.28" fill="#000"/>
<rect x="164.85" y="920.44" width="6.30" height="14.56" fill="#000"/>
<rect x="179.55" y="926.88" width="6.30" height="8.12" fill="#000"/>
<rect x="194.25" y="931.36" width="6.30" height="3.64" fill="#000"/>
<rect x="238.35" y="931.08" width="6.30" height="3.92" fill="#000"/>
<text x="65.10" y="960.00" text-anchor="middle" font-size="12">1,5</text>
<text x="94.50" y="960.00" text-anchor="middle" font-size="12">7,5</text>
<text x="123.90" y="960.00" text-anchor="middle" font-size="12">13,5</text>
<text x="153.30" y="960.00" text-anchor="middle" font-size="12">19,5</text>
<text x="182.70" y="960.00" text-anchor="middle" font-size="12">25,5</text>
<text x="212.10" y="960.00" text-anchor="middle" font-size="12">31,5</text>
<text x="241.50" y="960.00" text-anchor="middle" font-size="12">37,5</text>
<rect x="321.20" y="808.75" width="2.6" height="127.25" fill="#000"/>
<rect x="321.20" y="933.40" width="192.10" height="2.6" fill="#000"/>
<rect x="318.50" y="933.70" width="4" height="2" fill="#000"/>
<text x="309.30" y="934.70" text-anchor="end" dominant-baseline="central" font-weight="bold" font-size="14">0</text>
<rect x="318.50" y="902.45" width="4" height="2" fill="#000"/>
<text x="309.30" y="903.45" text-anchor="end" dominant-baseline="central" font-weight="bold" font-size="14">10</text>
<rect x="318.50" y="871.20" width="4" height="2" fill="#000"/>
<text x="309.30" y="872.20" text-anchor="end" dominant-baseline="central" font-weight="bold" font-size="14">20</text>
<rect x="318.50" y="839.95" width="4" height="2" fill="#000"/>
<text x="309.30" y="840.95" text-anchor="end" dominant-baseline="central" font-weight="bold" font-size="14">30</text>
<rect x="318.50" y="808.70" width="4" height="2" fill="#000"/>
<text x="309.30" y="809.70" text-anchor="end" dominant-baseline="central" font-weight="bold" font-size="14">40</text>
<rect x="321.50" y="934.70" width="2" height="3" fill="#000"/>
<rect x="336.10" y="934.70" width="2" height="3" fill="#000"/>
<rect x="350.70" y="934.70" width="2" height="3" fill="#000"/>
<rect x="365.30" y="934.70" width="2" height="3" fill="#000"/>
<rect x="379.90" y="934.70" width="2" height="3" fill="#000"/>
<rect x="394.50" y="934.70" width="2" height="3" fill="#000"/>
<rect x="409.10" y="934.70" width="2" height="3" fill="#000"/>
<rect x="423.70" y="934.70" width="2" height="3" fill="#000"/>
<rect x="438.30" y="934.70" width="2" height="3" fill="#000"/>
<rect x="452.90" y="934.70" width="2" height="3" fill="#000"/>
<rect x="467.50" y="934.70" width="2" height="3" fill="#000"/>
<rect x="482.10" y="934.70" width="2" height="3" fill="#000"/>
<rect x="496.70" y="934.70" width="2" height="3" fill="#000"/>
<rect x="511.30" y="934.70" width="2" height="3" fill="#000"/>
<rect x="341.25" y="917.20" width="6.30" height="17.50" fill="#000"/>
<rect x="355.85" y="921.58" width="6.30" height="13.12" fill="#000"/>
<rect x="370.45" y="917.20" width="6.30" height="17.50" fill="#000"/>
<rect x="385.05" y="857.20" width="6.30" height="77.50" fill="#000"/>
<rect x="399.65" y="840.01" width="6.30" height="94.69" fill="#000"/>
<rect x="414.25" y="891.58" width="6.30" height="43.12" fill="#000"/>
<rect x="428.85" y="909.08" width="6.30" height="25.62" fill="#000"/>
<rect x="443.45" y="925.95" width="6.30" height="8.75" fill="#000"/>
<rect x="458.05" y="930.64" width="6.30" height="4.06" fill="#000"/>
<rect x="472.65" y="930.64" width="6.30" height="4.06" fill="#000"/>
<text x="329.80" y="960.00" text-anchor="middle" font-size="12">1,5</text>
<text x="359.00" y="960.00" text-anchor="middle" font-size="12">7,5</text>
<text x="388.20" y="960.00" text-anchor="middle" font-size="12">13,5</text>
<text x="417.40" y="960.00" text-anchor="middle" font-size="12">19,5</text>
<text x="446.60" y="960.00" text-anchor="middle" font-size="12">25,5</text>
<text x="475.80" y="960.00" text-anchor="middle" font-size="12">31,5</text>
<text x="505.00" y="960.00" text-anchor="middle" font-size="12">37,5</text>
<text x="156.2" y="788.7" text-anchor="middle" font-size="15.4">Median speed (µm/min)</text>
<text x="430.6" y="787.5" text-anchor="middle" font-size="15.2">Median speed (µm/min)</text>
<text x="147" y="978" text-anchor="middle" font-size="15.3">Max speed (µm/min)</text>
<text x="426.1" y="978.3" text-anchor="middle" font-size="15.3">Max speed (µm/min)</text>
<text transform="translate(18,671.5) rotate(-90)" text-anchor="middle" font-size="15.4">% of cells</text>
<text transform="translate(282.6,664.9) rotate(-90)" text-anchor="middle" font-size="15.4">% of cells</text>
<text transform="translate(19,879.3) rotate(-90)" text-anchor="middle" font-size="15.4">% of cells</text>
<text transform="translate(285.6,859.9) rotate(-90)" text-anchor="middle" font-size="15.4">% of cells</text>
</svg></body></html>
